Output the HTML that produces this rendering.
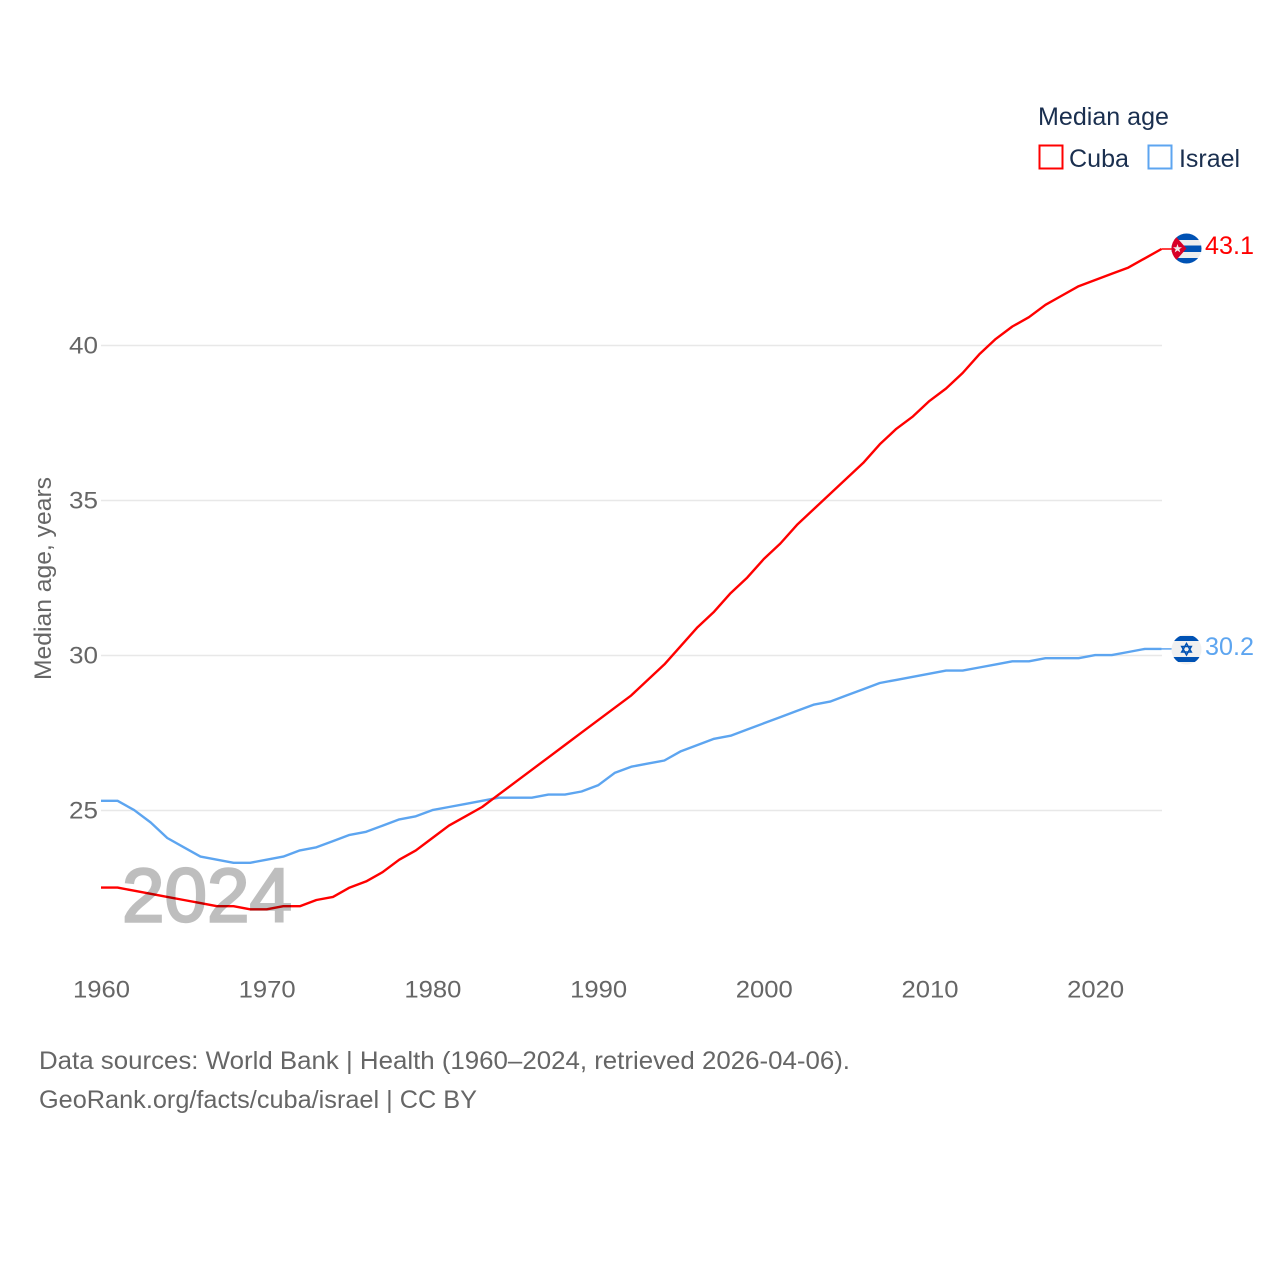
<!DOCTYPE html>
<html>
<head>
<meta charset="utf-8">
<title>Median age: Cuba and Israel</title>
<style>
html,body{margin:0;padding:0;background:#fff;}
svg{display:block;}
text{font-family:"Liberation Sans",sans-serif;}
</style>
</head>
<body>
<svg id="chart" width="1280" height="1280" viewBox="0 0 1280 1280" xmlns="http://www.w3.org/2000/svg">
  <g id="grid"></g>
  <g id="yticks"></g>
  <g id="xticks"></g>
  <text transform="translate(51,680) rotate(-90)" font-size="24" fill="#666" textLength="203" lengthAdjust="spacingAndGlyphs">Median age, years</text>
  <g id="lines"></g>
  <text x="122" y="921.5" font-size="76" fill="#000" stroke="#000" stroke-width="2.4" opacity="0.25" textLength="170" lengthAdjust="spacingAndGlyphs">2024</text>

  <text x="1038" y="125" font-size="25" fill="#1a2f4f" textLength="131" lengthAdjust="spacingAndGlyphs">Median age</text>
  <rect x="1039.5" y="145.5" width="23" height="23" fill="none" stroke="#ff0000" stroke-width="2"/>
  <text x="1069" y="167" font-size="25" fill="#1a2f4f" textLength="60" lengthAdjust="spacingAndGlyphs">Cuba</text>
  <rect x="1148.5" y="145.5" width="23" height="23" fill="none" stroke="#5da5f0" stroke-width="2"/>
  <text x="1179" y="167" font-size="25" fill="#1a2f4f" textLength="61" lengthAdjust="spacingAndGlyphs">Israel</text>

  <g>
    <defs>
      <clipPath id="cubaClip"><circle cx="1186.5" cy="248.5" r="15"/></clipPath>
      <clipPath id="israelClip"><circle cx="1186.5" cy="649.5" r="15"/></clipPath>
    </defs>
    <g clip-path="url(#cubaClip)">
      <rect x="1171" y="233" width="31" height="31" fill="#eeeeee"/>
      <rect x="1171" y="233" width="31" height="7" fill="#0052b4"/>
      <rect x="1171" y="245.5" width="31" height="6.5" fill="#0052b4"/>
      <rect x="1171" y="258" width="31" height="6" fill="#0052b4"/>
      <polygon points="1171,231 1186.5,248.5 1171,266" fill="#d80027"/>
      <polygon points="1177.5,244 1178.6,247.2 1182,247.2 1179.3,249.2 1180.3,252.4 1177.5,250.5 1174.7,252.4 1175.7,249.2 1173,247.2 1176.4,247.2" fill="#eeeeee"/>
    </g>
  </g>
  <text x="1205" y="254" font-size="25" fill="#ff0000" textLength="49" lengthAdjust="spacingAndGlyphs">43.1</text>

  <g>
    <g clip-path="url(#israelClip)">
      <rect x="1171" y="634" width="31" height="31" fill="#f0f0f0"/>
      <rect x="1171" y="636" width="31" height="5" fill="#0052b4"/>
      <rect x="1171" y="657" width="31" height="5" fill="#0052b4"/>
      <polygon points="1186.5,643.5 1191.3,652 1181.7,652" fill="none" stroke="#0052b4" stroke-width="1.5"/>
      <polygon points="1186.5,655 1191.3,646.5 1181.7,646.5" fill="none" stroke="#0052b4" stroke-width="1.5"/>
    </g>
  </g>
  <text x="1205" y="655" font-size="25" fill="#5da5f0" textLength="49" lengthAdjust="spacingAndGlyphs">30.2</text>

  <text x="39" y="1069" font-size="25" fill="#666" textLength="811" lengthAdjust="spacingAndGlyphs">Data sources: World Bank | Health (1960–2024, retrieved 2026-04-06).</text>
  <text x="39" y="1108" font-size="25" fill="#666" textLength="438" lengthAdjust="spacingAndGlyphs">GeoRank.org/facts/cuba/israel | CC BY</text>
</svg>
<script>
var startYear = 1960;
var cubaValues = [22.5,22.5,22.4,22.3,22.2,22.1,22.0,21.9,21.9,21.8,21.8,21.9,21.9,22.1,22.2,22.5,22.7,23.0,23.4,23.7,24.1,24.5,24.8,25.1,25.5,25.9,26.3,26.7,27.1,27.5,27.9,28.3,28.7,29.2,29.7,30.3,30.9,31.4,32.0,32.5,33.1,33.6,34.2,34.7,35.2,35.7,36.2,36.8,37.3,37.7,38.2,38.6,39.1,39.7,40.2,40.6,40.9,41.3,41.6,41.9,42.1,42.3,42.5,42.8,43.1];
var israelValues = [25.3,25.3,25.0,24.6,24.1,23.8,23.5,23.4,23.3,23.3,23.4,23.5,23.7,23.8,24.0,24.2,24.3,24.5,24.7,24.8,25.0,25.1,25.2,25.3,25.4,25.4,25.4,25.5,25.5,25.6,25.8,26.2,26.4,26.5,26.6,26.9,27.1,27.3,27.4,27.6,27.8,28.0,28.2,28.4,28.5,28.7,28.9,29.1,29.2,29.3,29.4,29.5,29.5,29.6,29.7,29.8,29.8,29.9,29.9,29.9,30.0,30.0,30.1,30.2,30.2];
var yTickValues = [25,30,35,40];
var xTickValues = [1960,1970,1980,1990,2000,2010,2020];

var NS = 'http://www.w3.org/2000/svg';
function xScale(year){ return 101 + (year - 1960) * 16.57; }
function yScale(v){ return 810.5 - (v - 25) * 31; }
function make(tag, attrs, parent){
  var el = document.createElementNS(NS, tag);
  for (var k in attrs) el.setAttribute(k, attrs[k]);
  parent.appendChild(el);
  return el;
}
var grid = document.getElementById('grid');
var yticks = document.getElementById('yticks');
var xticks = document.getElementById('xticks');
var lines = document.getElementById('lines');

yTickValues.forEach(function(v){
  var g = make('line', {x1:101, x2:1162, y1:yScale(v), y2:yScale(v), stroke:'#e8e8e8', 'stroke-width':1.4}, grid);
  
  
  var t = make('text', {x:98, y:yScale(v)+8, 'font-size':24.5, fill:'#666', 'text-anchor':'end', textLength:29, lengthAdjust:'spacingAndGlyphs'}, yticks);
  t.textContent = String(v);
  
  
});
xTickValues.forEach(function(y){
  var t = make('text', {x:xScale(y)-28, y:997.5, 'font-size':24.5, fill:'#666', textLength:57, lengthAdjust:'spacingAndGlyphs'}, xticks);
  t.textContent = String(y);
  
  
});
function drawSeries(values, color, name){
  var pts = values.map(function(v,i){ return xScale(startYear+i).toFixed(2)+','+(yScale(v)-0.4).toFixed(2); });
  var last = values.length - 1;
  var p = make('polyline', {points:pts.join(' '), fill:'none', stroke:color, 'stroke-width':2.4, 'stroke-linejoin':'round'}, lines);
  
  
  var c = make('line', {x1:xScale(startYear+last), x2:1173, y1:yScale(values[last])-0.4, y2:yScale(values[last])-0.4, stroke:color, 'stroke-width':1.5}, lines);
  
  
}
drawSeries(israelValues, '#5da5f0', 'israel-line');
drawSeries(cubaValues, '#ff0000', 'cuba-line');
</script>
</body>
</html>
